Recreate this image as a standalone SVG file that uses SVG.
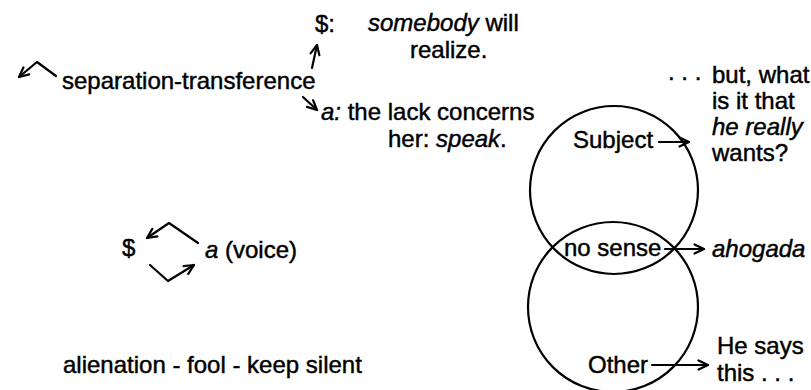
<svg xmlns="http://www.w3.org/2000/svg" width="811" height="390" viewBox="0 0 811 390">
  <style>
    text { font-family: "Liberation Sans", Arial, sans-serif; font-size: 24px; fill: #000; stroke: #000; stroke-width: 0.45; }
    .it { font-style: italic; }
    .ring { fill: none; stroke: #000; stroke-width: 2.2; }
    .link { fill: none; stroke: #000; stroke-width: 2.2; stroke-linecap: round; stroke-linejoin: round; }
  </style>
  <defs>
    <marker id="head" viewBox="0 0 12 12" refX="11" refY="6" markerWidth="12" markerHeight="12" markerUnits="userSpaceOnUse" orient="auto">
      <path d="M1.5,1.5 L11,6 L1.5,10.5" fill="none" stroke="#000" stroke-width="2.2" stroke-linecap="round" stroke-linejoin="round"/>
    </marker>
  </defs>

  <rect width="811" height="390" fill="#fff"/>

  <!-- Venn pair: Subject over Other -->
  <g id="venn">
    <circle class="ring" cx="614" cy="190" r="84"/>
    <circle class="ring" cx="613" cy="307" r="85"/>
  </g>

  <!-- left-hand scheme -->
  <g id="barred-subject-top">
    <text x="315" y="32">$:</text>
  </g>
  <g id="somebody">
    <text x="368" y="31"><tspan class="it">somebody</tspan> will</text>
    <text x="410" y="58">realize.</text>
  </g>
  <g id="separation">
    <text x="62" y="89">separation-transference</text>
  </g>
  <g id="lack">
    <text x="321" y="120"><tspan class="it">a:</tspan> the lack concerns</text>
    <text x="388" y="147">her: <tspan class="it">speak</tspan>.</text>
  </g>
  <g id="barred-subject-bottom">
    <text x="122" y="256">$</text>
  </g>
  <g id="voice">
    <text x="205" y="258"><tspan class="it">a</tspan> (voice)</text>
  </g>
  <g id="alienation">
    <text x="63" y="373">alienation - fool - keep silent</text>
  </g>

  <!-- right-hand scheme -->
  <g id="subject">
    <text x="573" y="148">Subject</text>
  </g>
  <g id="question">
    <text x="668" y="80">. . .</text>
    <text x="712" y="83">but, what</text>
    <text x="712" y="109">is it that</text>
    <text x="712" y="135" class="it">he really</text>
    <text x="712" y="161">wants?</text>
  </g>
  <g id="no-sense">
    <text x="564" y="256">no sense</text>
  </g>
  <g id="ahogada">
    <text x="712" y="257" class="it">ahogada</text>
  </g>
  <g id="other">
    <text x="588" y="373">Other</text>
  </g>
  <g id="says">
    <text x="717" y="354">He says</text>
    <text x="717" y="381">this . . .</text>
  </g>

  <!-- connectors -->
  <g id="connectors">
    <polyline class="link" points="56,76 37,62 19,77" marker-end="url(#head)"/>
    <line class="link" x1="312" y1="68" x2="317" y2="45" marker-end="url(#head)"/>
    <line class="link" x1="303" y1="97" x2="317" y2="110" marker-end="url(#head)"/>
    <polyline class="link" points="198,243 169,223 147,238" marker-end="url(#head)"/>
    <polyline class="link" points="150,265 168,281 194,265" marker-end="url(#head)"/>
    <line class="link" x1="659" y1="142" x2="689" y2="142" marker-end="url(#head)"/>
    <line class="link" x1="665" y1="249" x2="704" y2="249" marker-end="url(#head)"/>
    <line class="link" x1="652" y1="365" x2="708" y2="365" marker-end="url(#head)"/>
  </g>
</svg>
